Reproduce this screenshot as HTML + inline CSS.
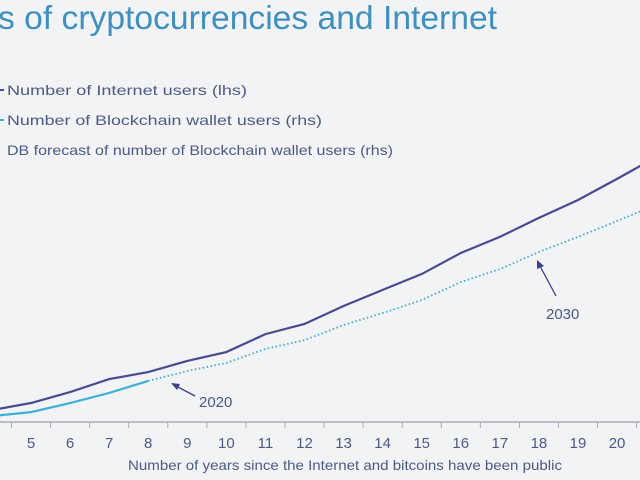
<!DOCTYPE html>
<html><head><meta charset="utf-8"><style>
body{margin:0;background:#f2f3f5;}
svg{display:block;font-family:"Liberation Sans",sans-serif;}
</style></head><body>
<svg width="640" height="480" viewBox="0 0 640 480">
<rect width="640" height="480" fill="#f2f3f5"/>
<text x="-2" y="29" font-size="33" fill="#3f8fbf" textLength="499" lengthAdjust="spacingAndGlyphs">s of cryptocurrencies and Internet</text>
<g font-size="14" fill="#4d5a82">
<line x1="0" y1="90" x2="4" y2="90" stroke="#4b4a8f" stroke-width="2"/>
<text x="7" y="95" textLength="240" lengthAdjust="spacingAndGlyphs">Number of Internet users (lhs)</text>
<line x1="0" y1="120" x2="4" y2="120" stroke="#3fb0d6" stroke-width="2"/>
<text x="7" y="125" textLength="315" lengthAdjust="spacingAndGlyphs">Number of Blockchain wallet users (rhs)</text>
<text x="7" y="155" textLength="386" lengthAdjust="spacingAndGlyphs">DB forecast of number of Blockchain wallet users (rhs)</text>
</g>
<g id="plot"></g>
<g>
<line x1="195" y1="396" x2="176" y2="386" stroke="#3d3f86" stroke-width="1.3"/>
<polygon points="171,383 180,384 177,390" fill="#3d3f86"/>
<text x="199" y="407" font-size="15" fill="#4d5a82">2020</text>
</g>
<g>
<line x1="556" y1="296" x2="540" y2="266" stroke="#3d3f86" stroke-width="1.3"/>
<polygon points="537,260 544,266 537,269" fill="#3d3f86"/>
<text x="546" y="319" font-size="15" fill="#4d5a82">2030</text>
</g>
<text x="128" y="470" font-size="14" fill="#4d5a82" textLength="434" lengthAdjust="spacingAndGlyphs">Number of years since the Internet and bitcoins have been public</text>
</svg>
<script>
const years=[4,5,6,7,8,9,10,11,12,13,14,15,16,17,18,19,20,21];
const internetUsers=[4.6,7.3,11.5,16.5,19.2,23.5,26.9,33.8,37.7,44.6,50.8,56.9,65,71.2,78.5,85.4,93.5,101.9];
const walletYears=[4,5,6,7,8];
const walletUsers=[2.3,3.8,7.3,11.2,15.8];
const forecastYears=[8,9,10,11,12,13,14,15,16,17,18,19,20,21];
const forecastUsers=[15.8,19.6,22.7,28.1,31.5,37.3,41.9,46.9,53.8,58.8,65.4,71.2,77.3,83.5];
const tickLabels=[5,6,7,8,9,10,11,12,13,14,15,16,17,18,19,20];
const NS='http://www.w3.org/2000/svg';
const xs=v=>31+(v-5)*39.07;
const ys=v=>422-v*2.6;
const plot=document.getElementById('plot');
function mk(t,a){const e=document.createElementNS(NS,t);for(const k in a)e.setAttribute(k,a[k]);plot.appendChild(e);return e;}
const ax=mk('line',{x1:0,y1:422,x2:640,y2:422,stroke:'#a9adb8','stroke-width':1.5});


for(let v=4;v<=21;v++){const t=mk('line',{x1:xs(v)-19.5,y1:422,x2:xs(v)-19.5,y2:428,stroke:'#a9adb8','stroke-width':1});

}
tickLabels.forEach(v=>{const t=mk('text',{x:xs(v),y:448,'font-size':15,fill:'#4d5a82','text-anchor':'middle'});t.textContent=v;

});
function line(xa,ya,attrs,name){const p=mk('polyline',Object.assign({points:xa.map((x,i)=>xs(x)+','+ys(ya[i])).join(' '),fill:'none'},attrs));

}
line(forecastYears,forecastUsers,{stroke:'#3fa8d0','stroke-width':1.8,'stroke-dasharray':'1.5 2.5'},'forecast-line');
line(walletYears,walletUsers,{stroke:'#3fb0d6','stroke-width':2.2},'blockchain-line');
line(years,internetUsers,{stroke:'#4b4a8f','stroke-width':2.2},'internet-line');
</script>
</body></html>
